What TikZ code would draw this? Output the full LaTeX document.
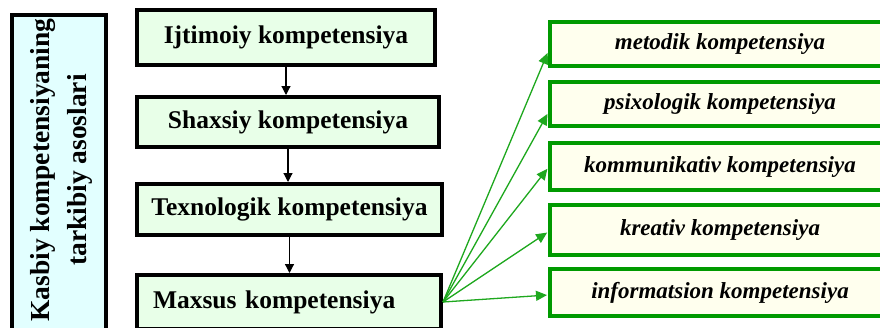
\documentclass[tikz,border=0pt]{standalone}
\usepackage{fontspec}
\setmainfont{Liberation Serif}
\usetikzlibrary{arrows.meta}
\definecolor{lgreen}{HTML}{E8FFE8}
\definecolor{lcyan}{HTML}{E2FFFF}
\definecolor{ivorybg}{HTML}{FFFFEE}
\definecolor{dgreen}{HTML}{009A00}
\definecolor{agreen}{HTML}{1EA81E}
\begin{document}
\begin{tikzpicture}[x=1pt,y=-1pt,
  blackbox/.style={draw=black, line width=4pt, fill=lgreen, inner sep=0pt,
    font=\fontsize{25.5}{29}\selectfont\bfseries},
  greenbox/.style={draw=dgreen, line width=4pt, fill=ivorybg, minimum width=340pt, inner sep=0pt,
    font=\fontsize{23}{27}\selectfont\bfseries\itshape},
  blackarrow/.style={draw=black, line width=1.2pt, -{Triangle[length=9pt,width=9pt]}},
  greenarrow/.style={draw=agreen, line width=1.3pt, -{Triangle[length=11pt,width=10pt]}, shorten >=1pt}]
\useasboundingbox (0,0) rectangle (880,327);
\fill[white] (0,0) rectangle (880,327);
\clip (0,0) rectangle (880,327);
% left tall box
\node[blackbox, fill=lcyan, minimum width=94pt, minimum height=330pt] (kbox) at (59,180) {};
\node[rotate=90, align=center, font=\fontsize{27.5}{37}\selectfont\bfseries] (ktext) at (61,170)
  {Kasbiy kompetensiyaning\\tarkibiy asoslari};
% middle column
\node[blackbox, minimum width=298pt, minimum height=55pt] (b1) at (286,37.5) {Ijtimoiy kompetensiya};
\node[blackbox, minimum width=302pt, minimum height=50pt] (b2) at (288,122) {Shaxsiy kompetensiya};
\node[blackbox, minimum width=305pt, minimum height=51pt] (b3) at (289.5,209.5) {Texnologik kompetensiya};
\node[blackbox, text width=272pt, inner xsep=16pt, align=left, minimum height=54pt] (b4) at (289,302) {Maxsus kompetensiya};
\draw[blackarrow] (b1.south) -- (b1.south |- b2.north);
\draw[blackarrow] (b2.south) -- (b2.south |- b3.north);
\draw[blackarrow] (b3.south) -- (b3.south |- b4.north);
% right column
\node[greenbox, minimum height=44pt] (r1) at (720,44) {metodik kompetensiya};
\node[greenbox, minimum height=44pt] (r2) at (720,104) {psixologik kompetensiya};
\node[greenbox, minimum height=47pt] (r3) at (720,166.5) {kommunikativ kompetensiya};
\node[greenbox, minimum height=50pt] (r4) at (720,230) {kreativ kompetensiya};
\node[greenbox, minimum height=47pt] (r5) at (720,292.5) {informatsion kompetensiya};
\draw[greenarrow] (b4.east) -- ([yshift=-8pt]r1.west);
\draw[greenarrow] (b4.east) -- ([yshift=-9pt]r2.west);
\draw[greenarrow] (b4.east) -- ([yshift=-1.5pt]r3.west);
\draw[greenarrow] (b4.east) -- ([yshift=-2pt]r4.west);
\draw[greenarrow] (b4.east) -- ([yshift=-2.5pt]r5.west);
\end{tikzpicture}
\end{document}
